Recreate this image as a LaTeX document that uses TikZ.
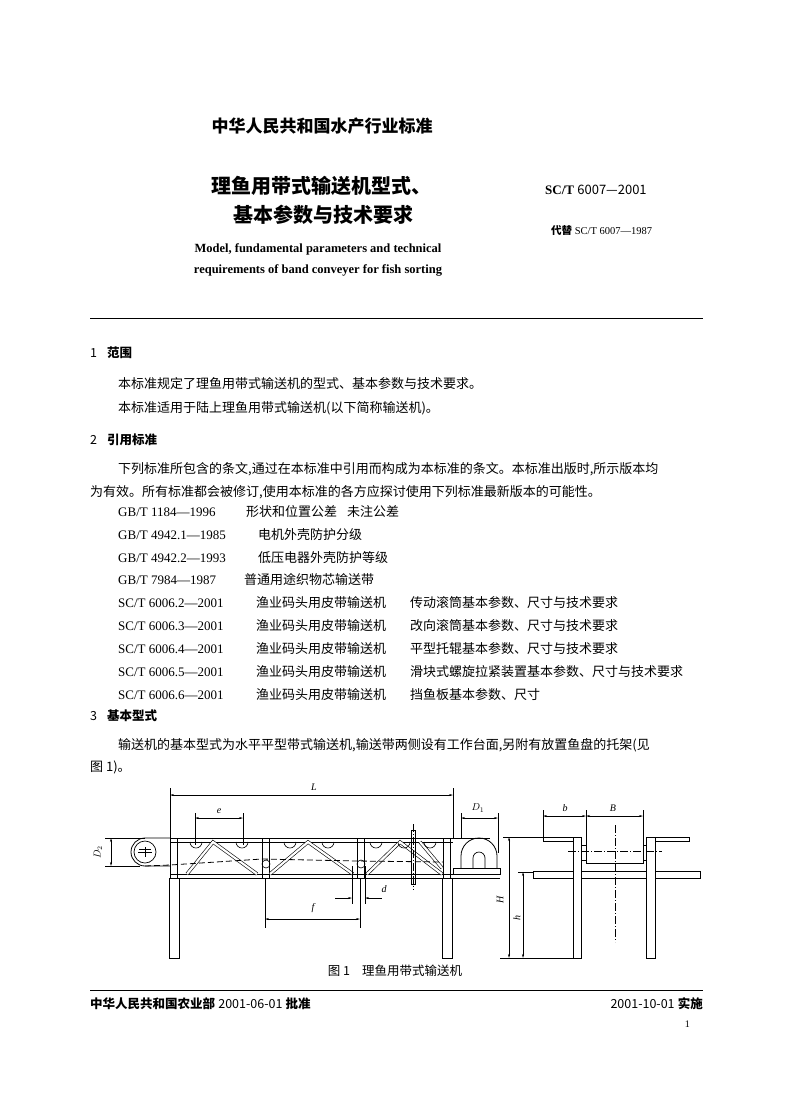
\documentclass[tikz,border=0pt]{standalone}
\usepackage{fontspec}
\setmainfont{Liberation Serif}
\newfontfamily\cjk{Noto Sans CJK SC}
\usetikzlibrary{arrows.meta}
\newcommand{\cj}[1]{{\cjk #1}}
\begin{document}
\begin{tikzpicture}[x=1pt,y=-1pt,
  txt/.style={anchor=west,inner sep=0,font=\fontsize{13}{13}\selectfont},
  ctr/.style={inner sep=0},
  dim/.style={{Stealth[length=4pt,width=2pt]}-{Stealth[length=4pt,width=2pt]},line width=0.5pt},
  ext/.style={line width=0.4pt},
  thick1/.style={line width=0.9pt},
  mem/.style={double distance=2.2pt,line width=0.6pt},
  cl/.style={line width=0.4pt,dash pattern=on 8pt off 2pt on 1pt off 2pt},
  lbl/.style={inner sep=0,font=\fontsize{10}{10}\selectfont\itshape}]
\useasboundingbox[fill=white] (0,0) rectangle (792,1120);
% header
\node[ctr,font=\fontsize{17}{17}\selectfont\bfseries] (hd) at (322,126) {\cj{中华人民共和国水产行业标准}};
\node[ctr,font=\fontsize{20}{20}\selectfont\bfseries] (t1) at (321,186) {\cj{理鱼用带式输送机型式、}};
\node[ctr,font=\fontsize{20}{20}\selectfont\bfseries] (t2) at (323,215) {\cj{基本参数与技术要求}};
\node[anchor=west,inner sep=0,font=\fontsize{13}{13}\selectfont] (sc) at (545,190) {\textbf{SC/T} \cj{6007—2001}};
\node[anchor=west,inner sep=0,font=\fontsize{10.5}{10.5}\selectfont] (rep) at (551,231) {\cj{\bfseries 代替} SC/T 6007—1987};
\node[ctr,font=\fontsize{12.5}{12.5}\selectfont\bfseries] (e1) at (318,249) {Model, fundamental parameters and technical};
\node[ctr,font=\fontsize{12.5}{12.5}\selectfont\bfseries] (e2) at (318,270) {requirements of band conveyer for fish sorting};
\draw[line width=0.8pt] (90,318) -- (703,318);
% section 1
\node[txt,font=\fontsize{12.5}{12.5}\selectfont] (s1) at (90,353) {\cj{1\hspace{10pt}\bfseries 范围}};
\node[txt] (p1) at (118,384) {\cj{本标准规定了理鱼用带式输送机的型式、基本参数与技术要求。}};
\node[txt] (p2) at (118,408) {\cj{本标准适用于陆上理鱼用带式输送机(以下简称输送机)。}};
% section 2
\node[txt,font=\fontsize{12.5}{12.5}\selectfont] (s2) at (90,440) {\cj{2\hspace{10pt}\bfseries 引用标准}};
\node[txt] (p3) at (118,469) {\cj{下列标准所包含的条文,通过在本标准中引用而构成为本标准的条文。本标准出版时,所示版本均}};
\node[txt] (p4) at (90,492) {\cj{为有效。所有标准都会被修订,使用本标准的各方应探讨使用下列标准最新版本的可能性。}};
\node[txt] (r1) at (118,512) {GB/T 1184—1996};
\node[txt] (r1b) at (246,512) {\cj{形状和位置公差\hspace{10pt}未注公差}};
\node[txt] (r2) at (118,535) {GB/T 4942.1—1985};
\node[txt] (r2b) at (258,535) {\cj{电机外壳防护分级}};
\node[txt] (r3) at (118,558) {GB/T 4942.2—1993};
\node[txt] (r3b) at (258,558) {\cj{低压电器外壳防护等级}};
\node[txt] (r4) at (118,580) {GB/T 7984—1987};
\node[txt] (r4b) at (244,580) {\cj{普通用途织物芯输送带}};
\node[txt] (r5) at (118,603) {SC/T 6006.2—2001};
\node[txt] (r5b) at (256,603) {\cj{渔业码头用皮带输送机}};
\node[txt] (r5c) at (410,603) {\cj{传动滚筒基本参数、尺寸与技术要求}};
\node[txt] (r6) at (118,626) {SC/T 6006.3—2001};
\node[txt] (r6b) at (256,626) {\cj{渔业码头用皮带输送机}};
\node[txt] (r6c) at (410,626) {\cj{改向滚筒基本参数、尺寸与技术要求}};
\node[txt] (r7) at (118,649) {SC/T 6006.4—2001};
\node[txt] (r7b) at (256,649) {\cj{渔业码头用皮带输送机}};
\node[txt] (r7c) at (410,649) {\cj{平型托辊基本参数、尺寸与技术要求}};
\node[txt] (r8) at (118,672) {SC/T 6006.5—2001};
\node[txt] (r8b) at (256,672) {\cj{渔业码头用皮带输送机}};
\node[txt] (r8c) at (410,672) {\cj{滑块式螺旋拉紧装置基本参数、尺寸与技术要求}};
\node[txt] (r9) at (118,695) {SC/T 6006.6—2001};
\node[txt] (r9b) at (256,695) {\cj{渔业码头用皮带输送机}};
\node[txt] (r9c) at (410,695) {\cj{挡鱼板基本参数、尺寸}};
% section 3
\node[txt,font=\fontsize{12.5}{12.5}\selectfont] (s3) at (90,716) {\cj{3\hspace{10pt}\bfseries 基本型式}};
\node[txt] (p5) at (118,745) {\cj{输送机的基本型式为水平平型带式输送机,输送带两侧设有工作台面,另附有放置鱼盘的托架(见}};
\node[txt] (p6) at (90,767) {\cj{图 1)。}};
% ---------- front view ----------
\draw[thick1] (170,838) -- (490,838) (170,842) -- (453,842);
\draw[thick1] (170,874) -- (500,874) (170,878) -- (500,878);
\draw[thick1] (169,878) rectangle (179,958) (442,878) rectangle (452,958);
\foreach \px in {170,262,357,443}{\draw[thick1] (\px,838) rectangle ++(7,40);}
\draw[mem] (187,874) -- (213,842) -- (257,874);
\draw[mem] (270,874) -- (308,842) -- (353,874);
\draw[mem] (367,874) -- (400,842) -- (442,874);
\draw[mem] (420,842) -- (442,868);
\foreach \ix in {196,242,290,328,376,404,430}{\draw[line width=0.6pt] (\ix-6,842) arc (180:0:6);}
\draw[line width=0.8pt,dash pattern=on 6pt off 3pt] (145,866) -- (170,865) -- (262,859) -- (357,861) -- (443,862);
\draw[line width=0.6pt] (266,864) circle (4) (361,864) circle (4);
\draw[line width=0.6pt] (411,830) rectangle (415,884);
\draw[cl] (413,824) -- (413,890);
% left pulley
\draw[line width=0.8pt] (170,838) -- (145,838) arc (270:90:14) -- (170,866);
\draw[line width=0.7pt] (145,852) circle (11);
\draw[line width=0.5pt] (138,852) -- (152,852) (145,847) -- (145,857) (139,849) -- (151,849);
% right pulley
\draw[line width=0.8pt] (461,868) -- (461,856) arc (180:360:18) -- (497,868);
\draw[line width=0.7pt] (473,868) -- (473,858) arc (180:360:6) -- (485,868);
\draw[line width=0.7pt] (453,868) rectangle (500,874);
% L
\draw[ext] (170,788) -- (170,838) (453,788) -- (453,838);
\draw[dim] (170,795) -- (453,795);
\node[lbl] (Ll) at (314,787) {L};
% e
\draw[ext] (195,813) -- (195,845) (243,813) -- (243,845);
\draw[dim] (195,818) -- (243,818);
\node[lbl] (el) at (219,811) {e};
% D1
\draw[ext] (461,813) -- (461,838) (498,813) -- (498,853);
\draw[dim] (461,818) -- (498,818);
\node[lbl] (D1) at (478,808) {$D_1$};
% D2
\draw[ext] (105,838) -- (145,838) (105,866) -- (140,866);
\draw[dim] (111,838) -- (111,866);
\node[lbl,rotate=90] (D2) at (98,852) {$D_2$};
% d
\draw[ext] (352,866) -- (352,904) (365,866) -- (365,904);
\draw[{Stealth[length=4pt,width=2pt]}-,line width=0.5pt] (352,898) -- (335,898);
\draw[{Stealth[length=4pt,width=2pt]}-,line width=0.5pt] (365,898) -- (382,898);
\node[lbl] (dl) at (384,889) {d};
% f
\draw[ext] (265,878) -- (265,928) (360,878) -- (360,928);
\draw[dim] (265,919) -- (360,919);
\node[lbl] (fl) at (313,908) {f};
% ---------- side view ----------
\draw[thick1] (543,837) rectangle (573,841) (655,837) rectangle (689,841);
\draw[thick1] (573,837) rectangle (581,958) (646,837) rectangle (655,958);
\draw[line width=0.7pt] (586,837) -- (586,863) -- (643,863) -- (643,837);
\draw[line width=0.6pt] (581,845) rectangle (586,860) (643,845) rectangle (646,860);
\draw[thick1] (533,871) rectangle (573,878) (581,871) rectangle (646,878) (655,871) rectangle (700,878);
\draw[cl] (568,851) -- (662,851);
\draw[cl] (615,825) -- (615,942);
\draw[ext] (543,810) -- (543,837) (586,810) -- (586,837) (643,810) -- (643,837);
\draw[dim] (543,816) -- (586,816);
\draw[dim] (586,816) -- (643,816);
\node[lbl] (bl) at (565,808) {b};
\node[lbl] (Bl) at (613,808) {B};
\draw[ext] (503,837) -- (543,837) (518,872) -- (533,872) (500,958) -- (581,958);
\draw[dim] (509,837) -- (509,958);
\draw[dim] (523,872) -- (523,958);
\node[lbl,rotate=90] (Hl) at (500,900) {H};
\node[lbl,rotate=90] (hl) at (517,918) {h};
% caption
\node[ctr,font=\fontsize{12.5}{12.5}\selectfont] (cap) at (395,971) {\cj{图 1\hspace{12pt}理鱼用带式输送机}};
% footer
\draw[line width=1pt] (90,990) -- (703,990);
\node[txt,font=\fontsize{12.5}{12.5}\selectfont] (fl1) at (90,1004) {\cj{\bfseries 中华人民共和国农业部} \cj{2001-06-01} \cj{\bfseries 批准}};
\node[anchor=east,inner sep=0,font=\fontsize{12.5}{12.5}\selectfont] (fr1) at (703,1004) {\cj{2001-10-01} \cj{\bfseries 实施}};
\node[anchor=east,inner sep=0,font=\fontsize{10}{10}\selectfont] (pg) at (690,1024) {1};
\end{tikzpicture}
\end{document}
